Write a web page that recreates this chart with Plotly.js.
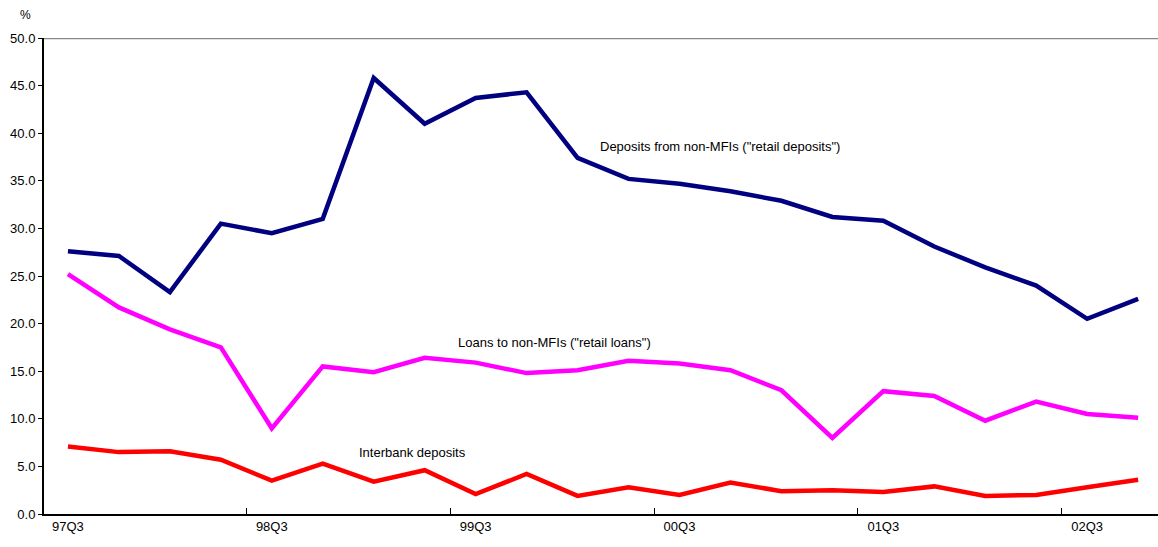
<!DOCTYPE html>
<html>
<head>
<meta charset="utf-8">
<script src="https://cdn.plot.ly/plotly-3.0.1.min.js"></script>
<style>html,body{margin:0;padding:0;background:#fff}#chart{width:1158px;height:547px}</style>
</head>
<body>
<div id="chart"></div>
<script>
const quarters = ["97Q3","97Q4","98Q1","98Q2","98Q3","98Q4","99Q1","99Q2","99Q3","99Q4","00Q1","00Q2","00Q3","00Q4","01Q1","01Q2","01Q3","01Q4","02Q1","02Q2","02Q3","02Q4"];
const retailDeposits = [27.6,27.1,23.3,30.5,29.5,31.0,45.8,41.0,43.7,44.3,37.4,35.2,34.7,33.9,32.9,31.2,30.8,28.1,25.9,24.0,20.5,22.6];
const retailLoans = [25.2,21.7,19.4,17.5,9.0,15.5,14.9,16.4,15.9,14.8,15.1,16.1,15.8,15.1,13.0,8.0,12.9,12.4,9.8,11.8,10.5,10.1];
const interbankDeposits = [7.1,6.5,6.6,5.7,3.5,5.3,3.4,4.6,2.1,4.2,1.9,2.8,2.0,3.3,2.4,2.5,2.3,2.9,1.9,2.0,2.8,3.6];

const fam = "Liberation Sans, Arial, sans-serif";

const traces = [
  {x: quarters, y: retailDeposits, type: "scatter", mode: "lines", line: {color: "#000080", width: 4.5}, name: "Deposits from non-MFIs"},
  {x: quarters, y: retailLoans, type: "scatter", mode: "lines", line: {color: "#ff00ff", width: 4.5}, name: "Loans to non-MFIs"},
  {x: quarters, y: interbankDeposits, type: "scatter", mode: "lines", line: {color: "#ff0000", width: 4.5}, name: "Interbank deposits"}
];

const layout = {
  width: 1158, height: 547,
  margin: {l: 44, r: 0, t: 38, b: 33},
  paper_bgcolor: "#fff", plot_bgcolor: "#fff",
  showlegend: false,
  font: {family: fam, size: 13, color: "#000"},
  xaxis: {
    type: "category", range: [-0.47, 21.39],
    dtick: 4, tick0: 0, tickson: "boundaries",
    ticks: "inside", ticklen: 6, tickcolor: "#000", tickwidth: 1,
    showline: true, linecolor: "#000", linewidth: 1.5,
    showgrid: false, zeroline: false,
    tickfont: {family: fam, size: 13, color: "#000"},
    fixedrange: true
  },
  yaxis: {
    range: [0, 50], dtick: 5, tickformat: ".1f",
    ticks: "outside", ticklen: 4, tickcolor: "#000", tickwidth: 1,
    showline: true, linecolor: "#000", linewidth: 2,
    showgrid: false, zeroline: false,
    tickfont: {family: fam, size: 13, color: "#000"},
    fixedrange: true
  },
  shapes: [
    {type: "line", xref: "paper", yref: "y", x0: 0, x1: 1, y0: 50, y1: 50, line: {color: "#888", width: 2.5}}
  ],
  annotations: [
    {xref: "paper", yref: "paper", x: -0.01, y: 1.03, xanchor: "right", yanchor: "bottom", text: "%", showarrow: false, font: {family: fam, size: 12, color: "#000"}},
    {xref: "x", yref: "y", x: 10.4, y: 38.6, xanchor: "left", yanchor: "middle", text: "Deposits from non-MFIs (\"retail deposits\")", showarrow: false, font: {family: fam, size: 13, color: "#000"}},
    {xref: "x", yref: "y", x: 7.62, y: 18.0, xanchor: "left", yanchor: "middle", text: "Loans to non-MFIs (\"retail loans\")", showarrow: false, font: {family: fam, size: 13, color: "#000"}},
    {xref: "x", yref: "y", x: 5.68, y: 6.5, xanchor: "left", yanchor: "middle", text: "Interbank deposits", showarrow: false, font: {family: fam, size: 13, color: "#000"}}
  ]
};

Plotly.newPlot("chart", traces, layout, {displayModeBar: false, staticPlot: true});
</script>
</body>
</html>
